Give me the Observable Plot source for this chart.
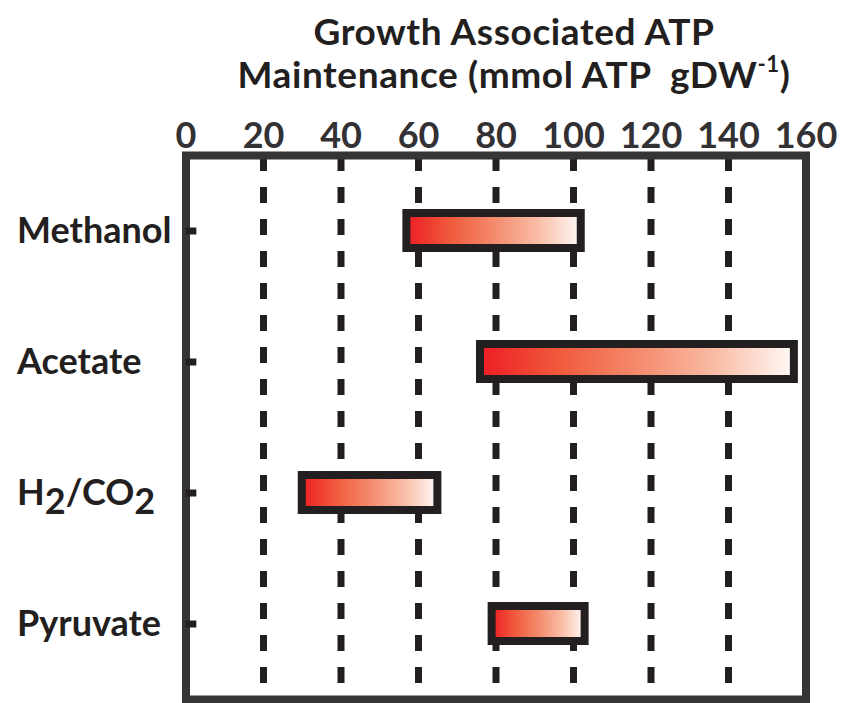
<!DOCTYPE html>
<html>
<head>
<meta charset="utf-8">
<script src="https://cdn.jsdelivr.net/npm/d3@7"></script>
<script src="https://cdn.jsdelivr.net/npm/@observablehq/plot@0.6"></script>
<style>
  html, body { margin: 0; padding: 0; background: #fff; }
  #wrap { width: 846px; height: 703px; overflow: hidden; font-family: Lato, "Open Sans", sans-serif; }
  #title { height: 100px; box-sizing: border-box; padding-left: 182px; padding-top: 9px; text-align: center; color: #231f20; font-weight: 700; font-size: 37px; letter-spacing: 0.6px; }
  #title div { line-height: 43px; white-space: pre; }
  #title sup { font-size: 60%; line-height: 0; vertical-align: 0.7em; }
</style>
</head>
<body>
<div id="wrap">
  <div id="title">
    <div>Growth Associated ATP</div>
    <div>Maintenance (mmol ATP  gDW<sup>-1</sup>)</div>
  </div>
  <div id="chart"></div>
</div>
<script>
// Data
const substrates = ["Methanol", "Acetate", "H₂/CO₂", "Pyruvate"];
const gamLow  = [57, 76, 30, 79];
const gamHigh = [102, 157, 65, 103];
const xTicks = [0, 20, 40, 60, 80, 100, 120, 140, 160];
const gridTicks = [20, 40, 60, 80, 100, 120, 140];

const rows = substrates.map((s, i) => ({substrate: s, low: gamLow[i], high: gamHigh[i]}));

const ink = "#231f20";
const frameInk = "#353437";

const plot = Plot.plot({
  width: 846,
  height: 603,
  marginTop: 55,
  marginBottom: 4,
  marginLeft: 185.5,
  marginRight: 40.5,
  style: {fontFamily: "Lato, 'Open Sans', sans-serif", fontSize: "36px", fontWeight: 700, color: ink, background: "#fff"},
  x: {domain: [0, 160], ticks: xTicks, label: null},
  y: {type: "band", domain: substrates, paddingInner: 0.734, paddingOuter: 0.432, label: null},
  marks: [
    Plot.ruleX(gridTicks, {stroke: ink, strokeWidth: 7, strokeDasharray: "16,16"}),
    Plot.barX(rows, {y: "substrate", x1: "low", x2: "high", fill: "url(#redfade)", stroke: ink, strokeWidth: 8}),
    Plot.frame({stroke: frameInk, strokeWidth: 8}),
    Plot.ruleY(substrates, {y: d => d, x1: 0, x2: 2.8, stroke: ink, strokeWidth: 7}),
    Plot.axisX({anchor: "top", ticks: xTicks, tickSize: 0, tickPadding: 8, fill: "#333134", label: null}),
    Plot.axisY({anchor: "left", tickSize: 0, tickPadding: 169, textAnchor: "start", fill: ink, label: null})
  ]
});

// gradient definition
const ns = "http://www.w3.org/2000/svg";
const defs = document.createElementNS(ns, "defs");
const grad = document.createElementNS(ns, "linearGradient");
grad.setAttribute("id", "redfade");
grad.setAttribute("x1", "0"); grad.setAttribute("x2", "1");
grad.setAttribute("y1", "0"); grad.setAttribute("y2", "0");
[["0", "#ed1c24"], ["0.25", "#f05a3c"], ["0.5", "#f48a6c"], ["0.75", "#f9bca5"], ["1", "#fffaf7"]].forEach(([o, c]) => {
  const st = document.createElementNS(ns, "stop");
  st.setAttribute("offset", o);
  st.setAttribute("stop-color", c);
  grad.appendChild(st);
});
defs.appendChild(grad);
plot.insertBefore(defs, plot.firstChild);

// render subscripts for H2/CO2 label
plot.querySelectorAll("text").forEach(t => {
  if (t.textContent === "H₂/CO₂") {
    t.textContent = "";
    const parts = [["H", false], ["2", true], ["/CO", false], ["2", true]];
    parts.forEach(([s, sub]) => {
      const ts = document.createElementNS(ns, "tspan");
      ts.textContent = s;
      if (sub) { ts.setAttribute("dy", "0.25em"); ts.setAttribute("font-size", "1em"); }
      else if (s !== "H") { ts.setAttribute("dy", "-0.25em"); }
      t.appendChild(ts);
    });
  }
});

document.getElementById("chart").appendChild(plot);
</script>
</body>
</html>
